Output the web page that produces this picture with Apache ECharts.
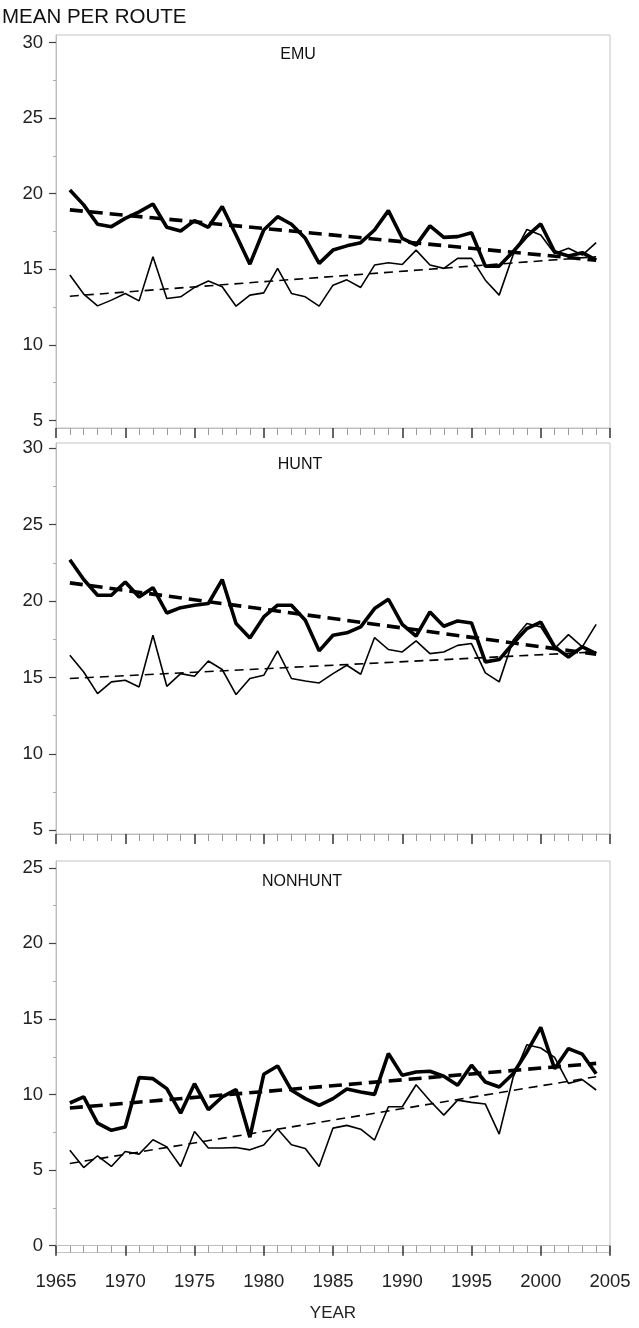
<!DOCTYPE html>
<html>
<head>
<meta charset="utf-8">
<script src="https://cdn.jsdelivr.net/npm/echarts@6/dist/echarts.min.js"></script>
<style>
html,body{margin:0;padding:0;background:#fff;}
#c{width:639px;height:1328px;}
</style>
</head>
<body>
<div id="c"></div>
<script>
var years = [1966,1967,1968,1969,1970,1971,1972,1973,1974,1975,1976,1977,1978,1979,1980,1981,1982,1983,1984,1985,1986,1987,1988,1989,1990,1991,1992,1993,1994,1995,1996,1997,1998,1999,2000,2001,2002,2003,2004];

var emuThick = [20.25,19.26,17.98,17.82,18.37,18.8,19.32,17.78,17.53,18.22,17.78,19.15,17.27,15.34,17.6,18.48,17.98,17.05,15.39,16.27,16.55,16.76,17.6,18.88,17.05,16.6,17.87,17.11,17.16,17.42,15.21,15.21,16.16,17.2,18.0,16.16,15.88,16.1,15.61];
var emuThin = [14.62,13.36,12.58,12.96,13.4,12.91,15.83,13.07,13.18,13.8,14.22,13.84,12.56,13.29,13.44,15.06,13.4,13.18,12.56,13.95,14.3,13.8,15.28,15.43,15.32,16.27,15.28,15.06,15.72,15.72,14.28,13.29,15.94,17.64,17.27,16.05,16.39,15.94,16.76];
var huntThick = [22.71,21.41,20.38,20.38,21.25,20.27,20.88,19.22,19.57,19.73,19.84,21.41,18.53,17.59,18.96,19.73,19.73,18.74,16.74,17.76,17.92,18.31,19.51,20.12,18.48,17.7,19.29,18.35,18.7,18.57,16.02,16.17,17.22,18.2,18.63,17.0,16.34,17.0,16.56];
var huntThin = [16.45,15.36,13.94,14.71,14.82,14.38,17.76,14.42,15.25,15.08,16.08,15.52,13.88,14.93,15.14,16.74,14.93,14.77,14.64,15.25,15.8,15.21,17.61,16.83,16.67,17.39,16.56,16.67,17.1,17.22,15.3,14.71,17.43,18.53,18.31,16.89,17.8,17.0,18.48];
var nonThick = [9.44,9.84,8.11,7.63,7.85,11.12,11.05,10.39,8.77,10.72,9.0,9.84,10.33,7.18,11.34,11.89,10.28,9.73,9.28,9.73,10.36,10.17,10.01,12.71,11.27,11.49,11.54,11.21,10.61,11.94,10.83,10.5,11.38,12.82,14.44,11.71,13.04,12.67,11.38];
var nonThin = [6.32,5.17,5.95,5.24,6.23,6.06,7.01,6.54,5.24,7.56,6.46,6.46,6.5,6.34,6.66,7.72,6.68,6.43,5.24,7.78,7.96,7.71,6.99,9.19,9.19,10.65,9.59,8.64,9.63,9.48,9.37,7.38,11.13,13.3,13.08,12.46,10.74,10.98,10.3];

var trendYears = [1966, 2004];
var emuThickTrend = [18.93, 15.6];
var emuThinTrend = [13.22, 15.83];
var huntThickTrend = [21.19, 16.52];
var huntThinTrend = [14.93, 16.67];
var nonThickTrend = [9.11, 12.06];
var nonThinTrend = [5.44, 11.18];

var panelNames = ['EMU', 'HUNT', 'NONHUNT'];
var yTicksTop = [5,10,15,20,25,30];
var yMinorTop = [7.5,12.5,17.5,22.5,27.5];
var yTicksBottom = [0,5,10,15,20,25];
var yMinorBottom = [2.5,7.5,12.5,17.5,22.5];
var xTickLabels = [1965,1970,1975,1980,1985,1990,1995,2000,2005];

function pairs(xs, ys){ return xs.map(function(x,i){ return [x, ys[i]]; }); }

var FONT = '"Liberation Sans", Arial, sans-serif';
var grids = [
  {left:56, right:29, top:35, height:393, ymin:4.5, ymax:30.5, ticks:yTicksTop, minor:yMinorTop},
  {left:56, right:29, top:443, height:391, ymin:4.75, ymax:30.35, ticks:yTicksTop, minor:yMinorTop},
  {left:56, right:29, top:861, height:391.5, ymin:-0.45, ymax:25.45, ticks:yTicksBottom, minor:yMinorBottom}
];
var panelData = [
  [emuThick, emuThin, emuThickTrend, emuThinTrend],
  [huntThick, huntThin, huntThickTrend, huntThinTrend],
  [nonThick, nonThin, nonThickTrend, nonThinTrend]
];

var option = {
  animation:false,
  backgroundColor:'#fff',
  grid:[], xAxis:[], yAxis:[], series:[],
  graphic:[
    {type:'text', left:2, top:7, style:{text:'MEAN PER ROUTE', font:'20.5px '+FONT, fill:'#111'}},
    {type:'text', x:298, y:55, style:{text:panelNames[0], font:'16px '+FONT, fill:'#111', textAlign:'center', textVerticalAlign:'middle'}},
    {type:'text', x:300, y:465, style:{text:panelNames[1], font:'16px '+FONT, fill:'#111', textAlign:'center', textVerticalAlign:'middle'}},
    {type:'text', x:302, y:882, style:{text:panelNames[2], font:'16px '+FONT, fill:'#111', textAlign:'center', textVerticalAlign:'middle'}}
  ]
};

grids.forEach(function(g, i){
  option.grid.push({left:g.left, right:g.right, top:g.top, height:g.height, show:true, borderColor:'#c4c4c4', borderWidth:1, containLabel:false});
  var last = (i === 2);
  option.xAxis.push({
    type:'value', gridIndex:i, min:1965, max:2005, interval:5,
    axisLine:{show:true, lineStyle:{color:'#bdbdbd', width:1}},
    axisTick:{show:true, length:10, customValues:xTickLabels, lineStyle:{color:'#333', width:1.5}},
    minorTick:{show:true, splitNumber:5, length:7, lineStyle:{color:'#9a9a9a', width:1}},
    splitLine:{show:false}, minorSplitLine:{show:false},
    axisLabel:{show:last, customValues:xTickLabels, margin:20, fontSize:18.5, color:'#222', fontFamily:FONT,
      formatter:function(v){ return String(v); }},
    name: last ? 'YEAR' : '', nameLocation:'middle', nameGap:52,
    nameTextStyle:{fontSize:17, color:'#222', fontFamily:FONT}
  });
  option.yAxis.push({
    type:'value', gridIndex:i, min:g.ymin, max:g.ymax, position:'left',
    axisLine:{show:true, lineStyle:{color:'#bdbdbd', width:1}},
    axisTick:{show:true, length:7, customValues:g.ticks, lineStyle:{color:'#444', width:1.2}},
    axisLabel:{show:true, customValues:g.ticks, margin:13, fontSize:18.5, color:'#222', fontFamily:FONT,
      formatter:function(v){ return String(v); }},
    splitLine:{show:false}
  });
  option.yAxis.push({
    type:'value', gridIndex:i, min:g.ymin, max:g.ymax, position:'left', offset:0,
    axisLine:{show:false},
    axisTick:{show:true, length:3, customValues:g.minor, lineStyle:{color:'#aaa', width:1}},
    axisLabel:{show:false},
    splitLine:{show:false}
  });
  var d = panelData[i];
  var yi = i*2;
  option.series.push({type:'line', xAxisIndex:i, yAxisIndex:yi, data:pairs(years, d[1]), showSymbol:false, lineStyle:{color:'#000', width:1.6}, z:3});
  option.series.push({type:'line', xAxisIndex:i, yAxisIndex:yi, data:pairs(years, d[0]), showSymbol:false, lineStyle:{color:'#000', width:3.6}, z:4});
  option.series.push({type:'line', xAxisIndex:i, yAxisIndex:yi, data:pairs(trendYears, d[3]), showSymbol:false, lineStyle:{color:'#000', width:1.6, type:[9,6]}, z:3});
  option.series.push({type:'line', xAxisIndex:i, yAxisIndex:yi, data:pairs(trendYears, d[2]), showSymbol:false, lineStyle:{color:'#000', width:3.6, type:[13,7]}, z:4});
});

var chart = echarts.init(document.getElementById('c'), null, {renderer:'canvas'});
chart.setOption(option);
</script>
</body>
</html>
